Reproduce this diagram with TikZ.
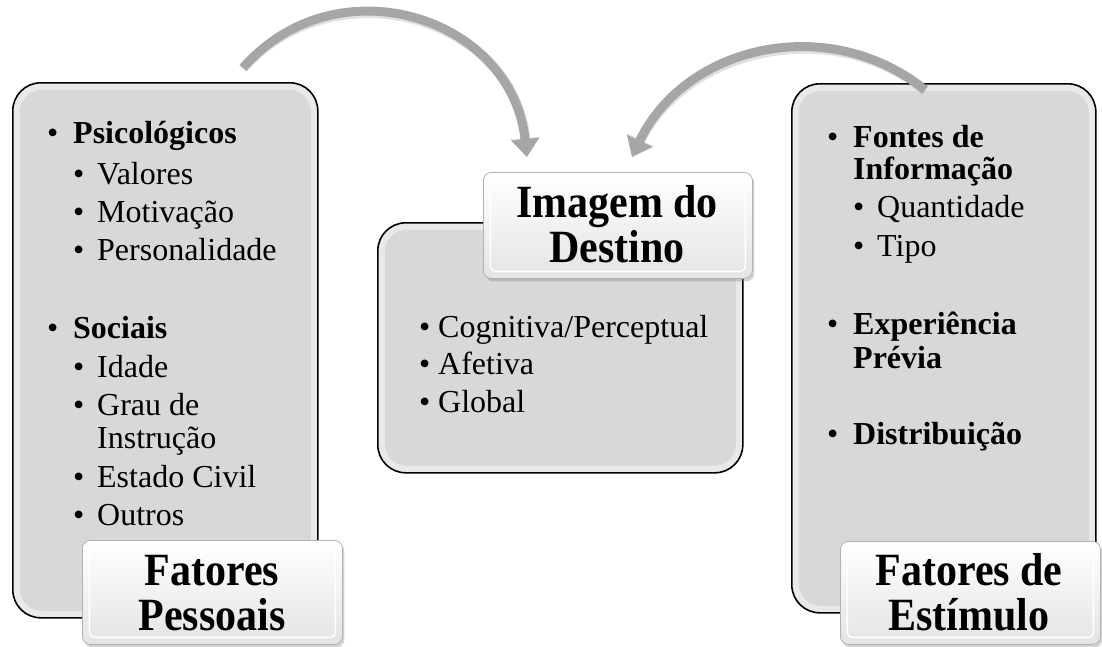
\documentclass[tikz,border=0pt]{standalone}
\usepackage{fontspec}
\setmainfont{Liberation Serif}
\usetikzlibrary{shadows,arrows.meta}
\definecolor{boxfill}{HTML}{D8D8D8}
\definecolor{boxrim}{HTML}{E9E9E9}
\definecolor{arrowgray}{HTML}{A6A6A6}
\definecolor{titlebot}{HTML}{E4E4E4}
\tikzset{
  bigbox/.style={draw=black, line width=1.6pt, fill=boxrim, rounded corners=28pt,
    anchor=north west, inner sep=0pt,
    path picture={\fill[boxfill, rounded corners=22pt]
      ([shift={(7pt,7pt)}]path picture bounding box.south west) rectangle
      ([shift={(-7pt,-7pt)}]path picture bounding box.north east);}},
  titlebox/.style={draw=gray!60, line width=0.8pt, rounded corners=8pt,
    top color=white, bottom color=titlebot, anchor=north west, inner sep=0pt,
    drop shadow={opacity=0.35, shadow xshift=2pt, shadow yshift=-3pt},
    path picture={\draw[white, line width=1.4pt, rounded corners=5pt]
      ([shift={(7pt,7pt)}]path picture bounding box.south west) rectangle
      ([shift={(-7pt,-7pt)}]path picture bounding box.north east);}},
  txt/.style={anchor=base west, inner sep=0pt, font=\fontsize{32}{36}\selectfont},
  ttl/.style={anchor=base, inner sep=0pt, font=\fontsize{42}{46}\selectfont\bfseries},
  bigarrow/.style={line width=9pt, draw=arrowgray, -{Triangle[width=27pt,length=18pt]}},
  arrowshadow/.style={line width=10pt, draw=black, opacity=0.12, -{Triangle[width=29pt,length=19pt]}}
}
\newcommand\mainb[1]{\makebox[26pt][l]{\textbullet}\textbf{#1}}
\newcommand\subb[1]{\makebox[24pt][l]{\textbullet}#1}
\newcommand\cenb[1]{\makebox[19pt][l]{\textbullet}#1}
\newcommand\tall[1]{\scalebox{1}[1.1]{#1}}
\begin{document}
\begin{tikzpicture}[x=1pt,y=1pt]
\useasboundingbox (0,0) rectangle (1102,-646);

% big boxes
\node[bigbox, minimum width=305pt, minimum height=535pt] (lbox) at (12,-82) {};
\node[bigbox, minimum width=365pt, minimum height=250pt] (cbox) at (377,-222) {};
\node[bigbox, minimum width=304pt, minimum height=529pt] (rbox) at (791,-83) {};

% title boxes
\node[titlebox, minimum width=260pt, minimum height=104pt] (ltitle) at (82,-540) {};
\node[titlebox, minimum width=269pt, minimum height=106pt] (ctitle) at (483,-172) {};
\node[titlebox, minimum width=260pt, minimum height=103pt] (rtitle) at (840,-541) {};

\node[ttl] (lt1) at (212,-585) {\tall{Fatores}};
\node[ttl] (lt2) at (212,-630) {\tall{Pessoais}};
\node[ttl] (ct1) at (617,-217) {\tall{Imagem do}};
\node[ttl] (ct2) at (617,-262) {\tall{Destino}};
\node[ttl] (rt1) at (969,-585) {\tall{Fatores de}};
\node[ttl] (rt2) at (969,-630) {\tall{Estímulo}};

% left box text
\node[txt] (l1) at (47,-143) {\mainb{Psicológicos}};
\node[txt] (l2) at (73,-184) {\subb{Valores}};
\node[txt] (l3) at (73,-222) {\subb{Motivação}};
\node[txt] (l4) at (73,-260) {\subb{Personalidade}};
\node[txt] (l5) at (47,-338) {\mainb{Sociais}};
\node[txt] (l6) at (73,-377) {\subb{Idade}};
\node[txt] (l7) at (73,-415) {\subb{Grau de}};
\node[txt] (l8) at (97,-448) {Instrução};
\node[txt] (l9) at (73,-487) {\subb{Estado Civil}};
\node[txt] (l10) at (73,-525) {\subb{Outros}};

% center box text
\node[txt] (c1) at (419,-337) {\cenb{Cognitiva/Perceptual}};
\node[txt] (c2) at (419,-374.5) {\cenb{Afetiva}};
\node[txt] (c3) at (419,-412) {\cenb{Global}};

% right box text
\node[txt] (r1) at (827,-147) {\mainb{Fontes de}};
\node[txt] (r2) at (853,-179) {\textbf{Informação}};
\node[txt] (r3) at (853,-217) {\subb{Quantidade}};
\node[txt] (r4) at (853,-256) {\subb{Tipo}};
\node[txt] (r5) at (827,-334) {\mainb{Experiência}};
\node[txt] (r6) at (853,-368) {\textbf{Prévia}};
\node[txt] (r7) at (827,-444) {\mainb{Distribuição}};

% arrows
\coordinate (a1s) at (243,-68);
\coordinate (a1e) at (527,-157);
\coordinate (a2s) at (925,-90);
\coordinate (a2e) at (632,-157);
\begin{scope}[shift={(2,-3)}]
\draw[arrowshadow] (a1s) .. controls (336,39) and (512,-16) .. (a1e);
\draw[arrowshadow] (a2s) .. controls (829,-12) and (685,-45) .. (a2e);
\end{scope}
\draw[bigarrow] (a1s) .. controls (336,39) and (512,-16) .. (a1e);
\draw[bigarrow] (a2s) .. controls (829,-12) and (685,-45) .. (a2e);
\end{tikzpicture}
\end{document}
